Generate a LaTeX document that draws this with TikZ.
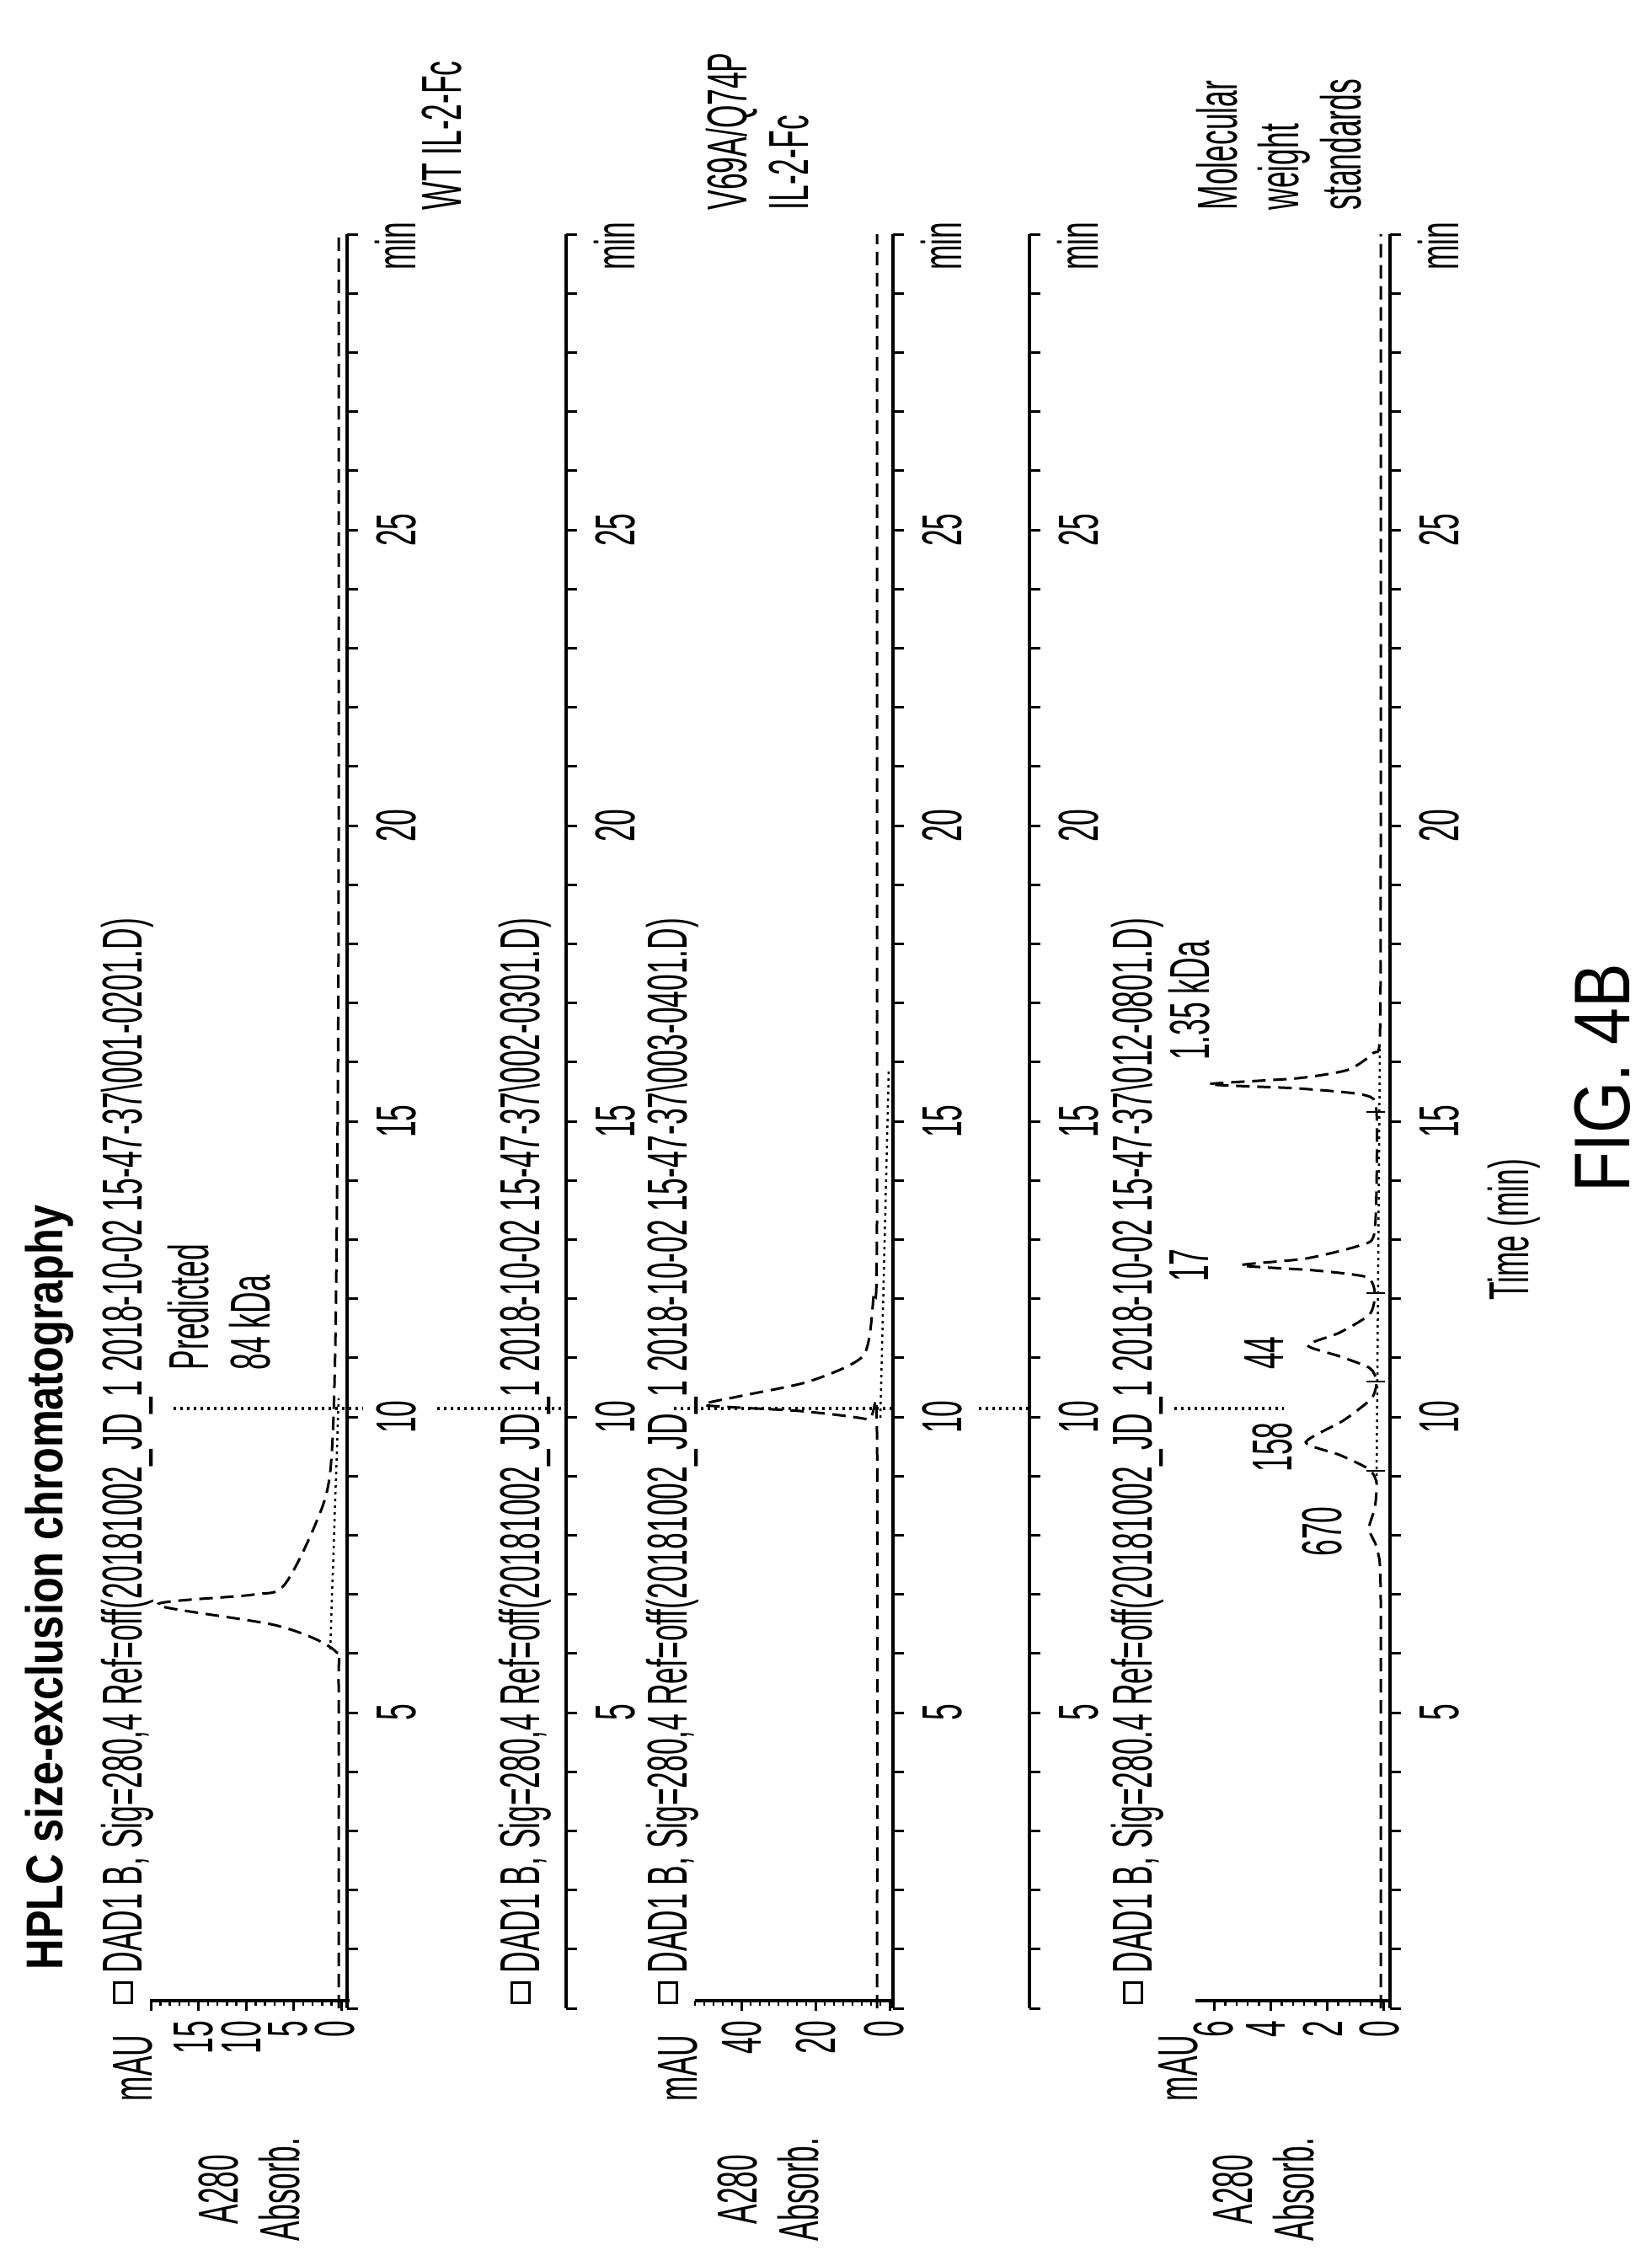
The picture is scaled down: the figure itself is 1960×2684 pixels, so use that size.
\documentclass[tikz,border=0pt]{standalone}
\usepackage{fontspec}
\setmainfont{Liberation Sans}
\newfontfamily\narrowfont[FakeStretch=0.53]{Liberation Sans}
\newfontfamily\titlefont[FakeStretch=0.82]{Liberation Sans}
\newfontfamily\figfont[FakeStretch=0.84]{Liberation Sans}
\usepackage{tikz}

\tikzset{
  lbl/.style={font=\narrowfont\fontsize{19}{21}\selectfont, rotate=90, inner sep=0pt},
  axisline/.style={line width=0.4mm},
  trace/.style={line width=0.3mm, dash pattern=on 1.6mm off 0.9mm},
  integ/.style={line width=0.25mm, dash pattern=on 0.3mm off 0.5mm},
}

\begin{document}
\begin{tikzpicture}[x=0.1mm,y=-0.1mm]
        \useasboundingbox (0,0) rectangle (1960,2684);

        %Title
        \node [lbl, font=\titlefont\bfseries\fontsize{17.5}{20}\selectfont, anchor=base west] (title) at (75,2339) {HPLC size-exclusion chromatography};

        %Time axes
        \foreach \ax/\k in {412/a,672/b,1060/c,1222/d,1650/e} {
          \draw [axisline] (\ax,2384) -- (\ax,278);
          \foreach \t in {0,...,30}
            \draw [line width=0.3mm] ({\ax},{2384-70.2*\t}) -- ++(13,0);
          \foreach \t in {5,10,...,25}
            \node [lbl, anchor=base] (tl-\k-\t) at ({\ax+81},{2384-70.2*\t}) {\t};
          \node [lbl, anchor=base] (min-\k) at ({\ax+81},292) {min};
        }

        %Signal axes
        \draw [axisline] (178,2375) -- (415,2375);
        \foreach \s in {0,...,20} \draw [line width=0.25mm] ({405-11.3*\s},2375) -- ++(0,6);
        \foreach \s in {0,...,4} \draw [line width=0.3mm] ({405-56.5*\s},2375) -- ++(0,12);
        \draw [axisline] (825,2375) -- (1062,2375);
        \foreach \s in {0,...,21} \draw [line width=0.25mm] ({1056-11*\s},2375) -- ++(0,6);
        \foreach \s in {0,...,2} \draw [line width=0.3mm] ({1056-88*\s},2375) -- ++(0,12);
        \draw [axisline] (1419,2375) -- (1652,2375);
        \foreach \s in {0,...,15} \draw [line width=0.25mm] ({1642-13.4*\s},2375) -- ++(0,6);
        \foreach \s in {0,...,3} \draw [line width=0.3mm] ({1642-67*\s},2375) -- ++(0,12);

        %Signal labels
        \node [lbl, anchor=base west] (mau-a) at (180,2495) {mAU};
        \node [lbl, anchor=east] (s15) at (230,2398) {15};
        \node [lbl, anchor=east] (s10) at (287,2398) {10};
        \node [lbl, anchor=east] (s5a) at (342,2398) {5};
        \node [lbl, anchor=east] (s0a) at (398,2398) {0};
        \node [lbl, anchor=base west] (mau-c) at (827,2495) {mAU};
        \node [lbl, anchor=east] (s40) at (881,2398) {40};
        \node [lbl, anchor=east] (s20) at (969,2398) {20};
        \node [lbl, anchor=east] (s0c) at (1050,2398) {0};
        \node [lbl, anchor=base west] (mau-e) at (1421,2495) {mAU};
        \node [lbl, anchor=east] (s6) at (1440,2398) {6};
        \node [lbl, anchor=east] (s4) at (1503,2398) {4};
        \node [lbl, anchor=east] (s2) at (1570,2398) {2};
        \node [lbl, anchor=east] (s0e) at (1637,2398) {0};
        \node [lbl, align=center] (abs-a) at (296,2599) {A280\\Absorb.};
        \node [lbl, align=center] (abs-c) at (912,2599) {A280\\Absorb.};
        \node [lbl, align=center] (abs-e) at (1500,2599) {A280\\Absorb.};

        %Signal names
        \foreach \b/\k/\f/\d in {168/a/001-0201/{,}, 640/b/002-0301/{,}, 815/c/003-0401/{,}, 1367/e/012-0801/.} {
          \draw [line width=0.3mm] ({\b-33},2353) rectangle ({\b-12},2377);
          \node [lbl, anchor=base west] (dad-\k) at (\b,2343)
            {DAD1 B, Sig=280\d4 Ref=off(20181002\_JD\_1 2018-10-02 15-47-37\textbackslash\f.D)};
        }

        %Samples
        \node [lbl, anchor=north west, align=left] (wt) at (500,250) {WT IL-2-Fc};
        \node [lbl, anchor=north west, align=left] (mut) at (837,250) {V69A/Q74P\\IL-2-Fc};
        \node [lbl, anchor=north west, align=left] (mws) at (1419,250) {Molecular\\weight\\standards};

        %Traces
        \draw [trace] plot [smooth, tension=0.5] coordinates {(402,2384) (402,2000) (398,1960) (330,1930)
          (187,1905) (300,1893) (337,1882) (375,1808) (392,1747) (398,1600) (401,1300) (402,1000) (402,278)};
        \draw [integ] (392,1958) -- (402,1660);
        \draw [trace] plot [smooth, tension=0.4] coordinates {(1041,2384) (1041,1700) (1030,1685) (950,1675)
          (837,1668) (875,1658) (960,1640) (1025,1609) (1037,1538) (1041,1450) (1041,278)};
        \draw [integ] (1045,1683) -- (1055,1270);
        \draw [trace] plot [smooth, tension=0.4] coordinates {(1639,2384) (1639,1900) (1635,1840) (1625,1815)
          (1632,1790) (1634,1760) (1625,1744) (1590,1727) (1550,1712) (1595,1686) (1628,1660) (1634,1640)
          (1626,1624) (1590,1610) (1552,1597) (1590,1582) (1626,1560) (1632,1535) (1622,1516) (1560,1508)
          (1473,1502) (1550,1494) (1615,1478) (1632,1460) (1634,1320) (1620,1300) (1540,1292) (1435,1287)
          (1540,1280) (1600,1270) (1630,1250) (1638,1230) (1639,1000) (1639,278)};
        \draw [integ] (1634,1760) -- (1638,1240);
        \foreach \y in {1746,1640,1535,1320} \draw [line width=0.25mm] (1622,\y) -- (1644,\y);

        %Elution at 10 min
        \foreach \p/\q in {206/431, 519/675, 800/1062, 1162/1225, 1394/1524}
          \draw [integ, line width=0.35mm] (\p,1672) -- (\q,1672);

        %Peak labels
        \node [lbl, anchor=north west, align=left] (pred) at (198,1627) {Predicted\\84 kDa};
        \node [lbl] (m670) at (1569,1818) {670};
        \node [lbl] (m158) at (1510,1718) {158};
        \node [lbl] (m44) at (1501,1606) {44};
        \node [lbl] (m17) at (1412,1502) {17};
        \node [lbl] (m135) at (1412,1188) {1.35 kDa};

        \node [lbl] (time) at (1797,1460) {Time (min)};
        \node [lbl, font=\figfont\fontsize{26.7}{30}\selectfont] (fig) at (1902,1280) {FIG. 4B};
      \end{tikzpicture}
\end{document}
